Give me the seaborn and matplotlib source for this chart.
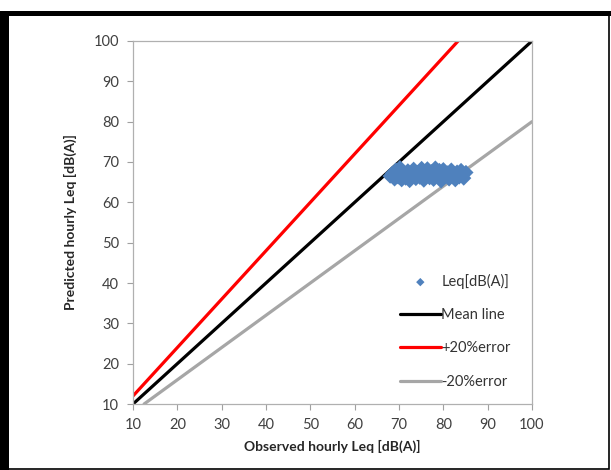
import numpy as np
import pandas as pd
import seaborn as sns
import matplotlib.pyplot as plt
from matplotlib.patches import Rectangle

# observed vs predicted hourly Leq values
observed = [68.0, 68.5, 69.0, 69.3, 69.8, 70.2, 70.6, 71.0, 71.5, 72.0,
            72.4, 72.9, 73.3, 73.8, 74.2, 74.7, 75.1, 75.6, 76.0, 76.4,
            76.9, 77.3, 77.8, 78.2, 78.6, 79.1, 79.5, 80.0, 80.4, 80.9,
            81.3, 81.8, 82.2, 82.7, 83.1, 83.6, 84.0, 84.6, 85.1,
            70.5, 73.0, 75.5, 78.0, 80.5, 83.0]
predicted = [66.5, 67.2, 65.8, 68.0, 66.3, 68.6, 65.6, 67.1, 66.0, 67.8,
             65.4, 66.7, 68.2, 65.9, 67.4, 66.2, 68.4, 65.5, 67.0, 68.3,
             66.1, 67.6, 65.7, 68.5, 66.6, 67.9, 65.3, 68.1, 66.4, 67.3,
             65.8, 68.0, 66.9, 65.6, 67.5, 66.3, 67.9, 66.0, 67.4,
             67.0, 67.2, 66.8, 67.1, 66.9, 66.8]

line_x = [10, 100]
mean_y = [10, 100]
plus_x = [10, 100 / 1.2]
plus_y = [12, 100]
minus_x = [12.5, 100]
minus_y = [10, 80]

ticks = [10, 20, 30, 40, 50, 60, 70, 80, 90, 100]

df = pd.DataFrame({'observed': observed, 'predicted': predicted})

sns.set_style('white')
plt.rcParams['font.family'] = ['Lato', 'DejaVu Sans']

fig = plt.figure(figsize=(6.11, 4.70), dpi=100)
ax = fig.add_axes([0.2177, 0.1404, 0.653, 0.7724])

sns.scatterplot(data=df, x='observed', y='predicted', marker='D', s=60,
                color='#4f81bd', edgecolor='none', label='Leq[dB(A)]', ax=ax, zorder=4)
sns.lineplot(x=line_x, y=mean_y, color='black', linewidth=2.3, label='Mean line', ax=ax)
sns.lineplot(x=plus_x, y=plus_y, color='#ff0000', linewidth=2.3, label='+20%error', ax=ax)
sns.lineplot(x=minus_x, y=minus_y, color='#a6a6a6', linewidth=2.3, label='-20%error', ax=ax)

ax.set_xlim(10, 100)
ax.set_ylim(10, 100)
ax.set_xticks(ticks)
ax.set_yticks(ticks)
ax.tick_params(axis='both', direction='out', length=4, width=0.8, color='#a0a0a0',
               labelsize=10.5, labelcolor='#404040', pad=6, bottom=True, left=True)
for sp in ax.spines.values():
    sp.set_color('#b0b0b0')
    sp.set_linewidth(0.9)

ax.set_xlabel('Observed hourly Leq [dB(A)]', fontsize=10, fontweight='bold', labelpad=6)
ax.set_ylabel('Predicted hourly Leq [dB(A)]', fontsize=10, fontweight='bold', labelpad=12)

leg = ax.legend(loc='lower left', bbox_to_anchor=(0.636, 0.006), frameon=False,
                fontsize=10.5, handlelength=2.8, handletextpad=0.05, labelspacing=1.32,
                markerscale=0.55)
for t in leg.get_texts():
    t.set_color('#333333')

# outer frame of the figure
fig.patches.append(Rectangle((0.009, 0.003), 0.988, 0.972, transform=fig.transFigure,
                             fill=False, edgecolor='black', linewidth=1.2))
fig.patches.append(Rectangle((0.0, 0.0), 0.014, 0.975, transform=fig.transFigure,
                             facecolor='black', edgecolor='none'))
fig.patches.append(Rectangle((0.0, 0.966), 1.0, 0.01, transform=fig.transFigure,
                             facecolor='black', edgecolor='none'))

fig.savefig('out.png', dpi=100)
